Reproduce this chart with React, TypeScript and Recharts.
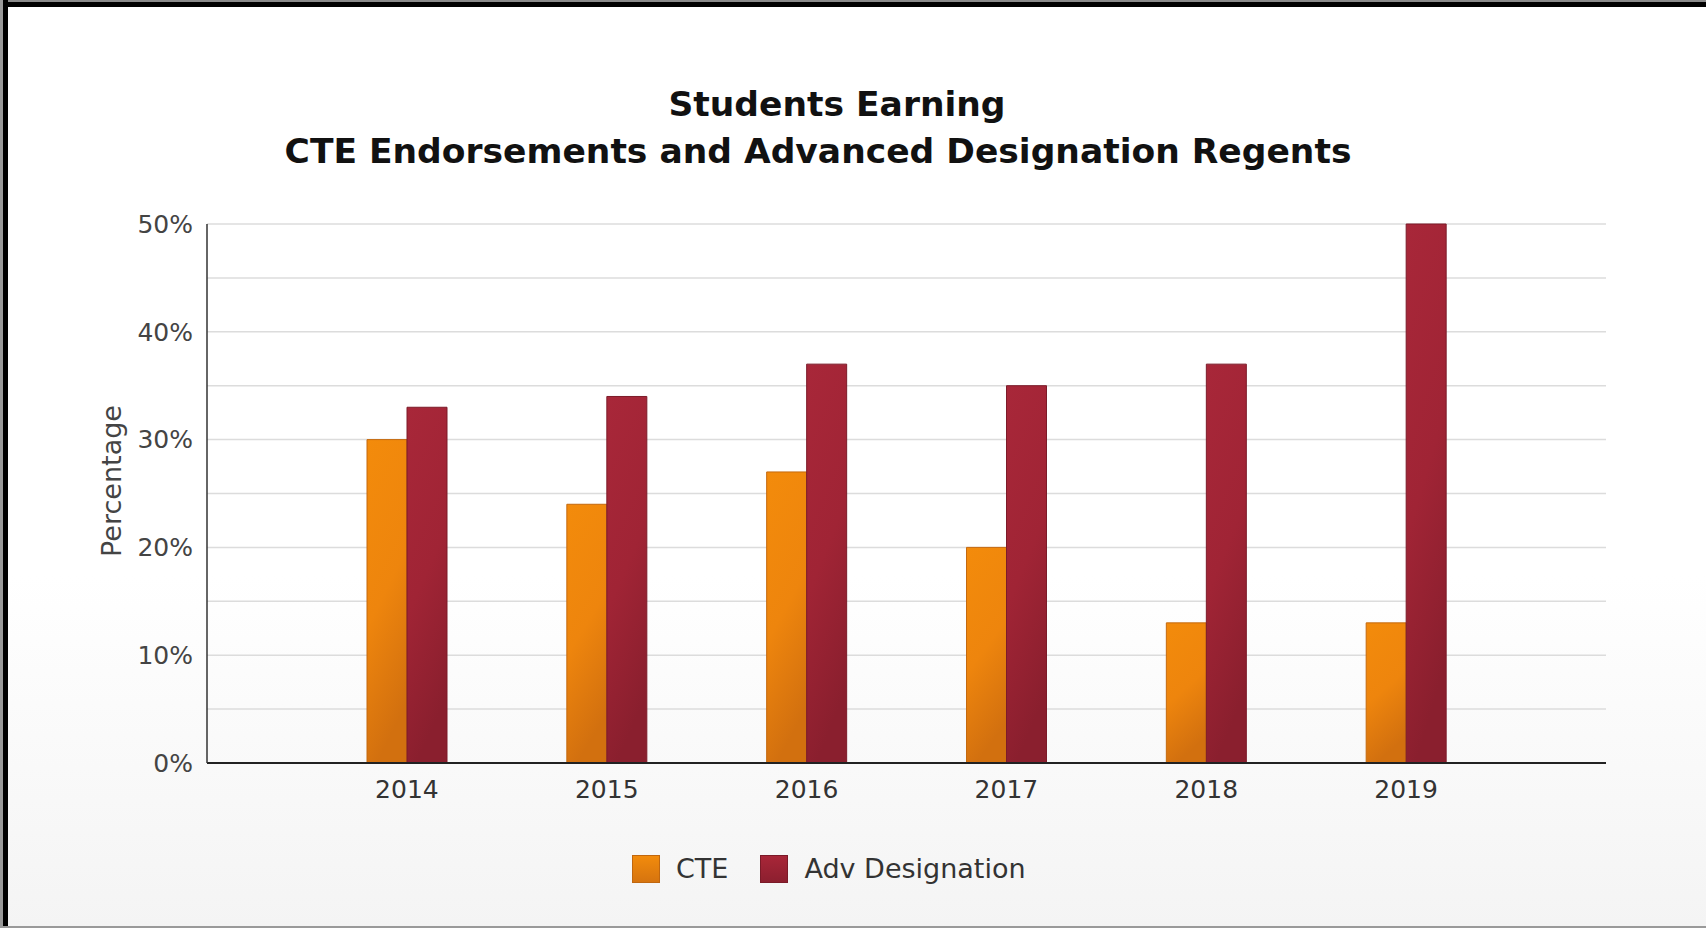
import React from 'react';
import { BarChart, Bar, XAxis, YAxis, CartesianGrid, Legend } from 'recharts';

const years = ['2014', '2015', '2016', '2017', '2018', '2019'];
const cteValues = [30, 24, 27, 20, 13, 13];
const advValues = [33, 34, 37, 35, 37, 50];
const yTicks = [0, 5, 10, 15, 20, 25, 30, 35, 40, 45, 50];
const seriesNames = ['CTE', 'Adv Designation'];
const titleLines = ['Students Earning', 'CTE Endorsements and Advanced Designation Regents'];
const yAxisTitle = 'Percentage';

const data = years.map((y, i) => ({ year: y, cte: cteValues[i], adv: advValues[i] }));

const FONT = '"DejaVu Sans", Verdana, sans-serif';

const legendSwatch = [
  { bg: 'linear-gradient(to bottom, #f28b0c, #d6740f)', border: '#c0670f' },
  { bg: 'linear-gradient(to bottom, #a82638, #8c1f2f)', border: '#7a1a28' },
];

const renderLegend = () => (
  <div style={{ display: 'flex', alignItems: 'center', fontFamily: FONT, fontSize: 27, color: '#333' }}>
    {seriesNames.map((name, i) => (
      <div key={name} style={{ display: 'flex', alignItems: 'center', marginRight: 32 }}>
        <div
          style={{
            width: 26,
            height: 26,
            background: legendSwatch[i].bg,
            border: `1px solid ${legendSwatch[i].border}`,
            marginRight: 16,
          }}
        />
        <span>{name}</span>
      </div>
    ))}
  </div>
);

export default function App() {
  return (
    <div
      style={{
        position: 'absolute',
        left: 0,
        top: 0,
        width: 1706,
        height: 928,
        overflow: 'hidden',
        background: 'linear-gradient(to bottom, #ffffff 0%, #ffffff 62%, #f4f4f4 100%)',
      }}
    >
      {/* frame */}
      <div style={{ position: 'absolute', left: 0, top: 0, width: 1706, height: 2, background: '#8a8a8a' }} />
      <div style={{ position: 'absolute', left: 0, top: 2, width: 1706, height: 5, background: '#000' }} />
      <div style={{ position: 'absolute', left: 0, top: 0, width: 3, height: 928, background: '#9a9a9a' }} />
      <div style={{ position: 'absolute', left: 3, top: 0, width: 5, height: 928, background: '#000' }} />
      <div style={{ position: 'absolute', left: 0, top: 926, width: 1706, height: 2, background: '#9a9a9a' }} />

      <svg
        width={1706}
        height={928}
        style={{ position: 'absolute', left: 0, top: 0, pointerEvents: 'none' }}
      >
        <text x={837} y={116} textAnchor="middle" fontFamily={FONT} fontWeight="bold" fontSize={34.5} fill="#111">
          {titleLines[0]}
        </text>
        <text x={818} y={163} textAnchor="middle" fontFamily={FONT} fontWeight="bold" fontSize={34.5} fill="#111">
          {titleLines[1]}
        </text>
        <text
          x={121}
          y={481}
          textAnchor="middle"
          fontFamily={FONT}
          fontSize={27}
          fill="#444"
          transform="rotate(-90, 121, 481)"
        >
          {yAxisTitle}
        </text>
      </svg>

      <div style={{ position: 'absolute', left: 0, top: 0 }}>
        <BarChart
          width={1706}
          height={928}
          data={data}
          margin={{ top: 224, right: 100, bottom: 105, left: 127 }}
          barGap={0}
        >
          <defs>
            <linearGradient id="cteGrad" x1="0" y1="0" x2="0.25" y2="1">
              <stop offset="0%" stopColor="#f38b0b" />
              <stop offset="55%" stopColor="#ee850d" />
              <stop offset="100%" stopColor="#d2700f" />
            </linearGradient>
            <linearGradient id="advGrad" x1="0" y1="0" x2="0.25" y2="1">
              <stop offset="0%" stopColor="#a82739" />
              <stop offset="55%" stopColor="#a02435" />
              <stop offset="100%" stopColor="#8a1f2e" />
            </linearGradient>
          </defs>
          <CartesianGrid vertical={false} stroke="#dcdcdc" strokeWidth={1.5} />
          <XAxis
            dataKey="year"
            padding={{ left: 100, right: 100 }}
            height={60}
            tickLine={false}
            axisLine={{ stroke: '#222', strokeWidth: 2 }}
            tickMargin={11}
            tick={{ fontSize: 25, fill: '#333', fontFamily: FONT }}
          />
          <YAxis
            width={80}
            domain={[0, 50]}
            ticks={yTicks}
            interval={0}
            tickLine={false}
            tickSize={6}
            tickMargin={8}
            axisLine={{ stroke: '#333', strokeWidth: 1.5 }}
            tick={{ fontSize: 25, fill: '#444', fontFamily: FONT }}
            tickFormatter={(v: number) => (v % 10 === 0 ? `${v}%` : '')}
          />
          <Legend
            verticalAlign="middle"
            align="center"
            layout="horizontal"
            wrapperStyle={{ top: 853, left: 632, width: 700 }}
            content={renderLegend}
          />
          <Bar
            dataKey="cte"
            name={seriesNames[0]}
            barSize={40}
            fill="url(#cteGrad)"
            stroke="#c4690f"
            strokeWidth={1}
            isAnimationActive={false}
          />
          <Bar
            dataKey="adv"
            name={seriesNames[1]}
            barSize={40}
            fill="url(#advGrad)"
            stroke="#7c1b29"
            strokeWidth={1}
            isAnimationActive={false}
          />
        </BarChart>
      </div>
    </div>
  );
}
